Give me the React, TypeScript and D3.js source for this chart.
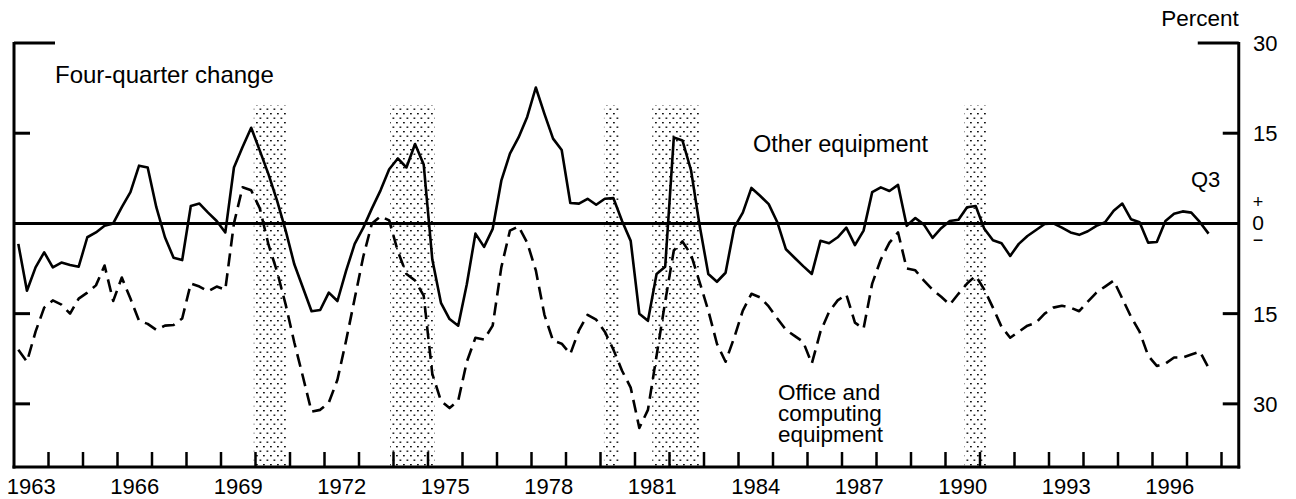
import React from "react";
import * as d3 from "d3";

// Quarterly data, 1963Q1 .. 1997Q3 (four-quarter percent change)
const START_YEAR = 1963;
const otherEquipment: number[] = [
  -3.4, -11.2, -7.3, -4.8, -7.3, -6.5, -6.9, -7.2, -2.3, -1.5, -0.4, 0,
  2.7, 5.2, 9.6, 9.3, 2.7, -2.3, -5.7, -6.1, 2.9, 3.3, 1.8, 0.4,
  -1.5, 9.3, 12.7, 15.9, 12.1, 8.2, 3.8, -1.2, -6.8, -10.7, -14.6, -14.4,
  -11.5, -12.9, -7.9, -3.4, -0.7, 2.5, 5.5, 9.0, 10.8, 9.3, 13.2, 9.8,
  -6.0, -13.2, -15.9, -17.0, -10.1, -1.7, -3.9, -0.9, 7.1, 11.6, 14.3, 17.7,
  22.6, 18.2, 14.1, 12.2, 3.4, 3.3, 4.1, 3.1, 4.1, 4.2, 0.4, -2.9,
  -15.0, -16.2, -8.4, -7.2, 14.3, 13.8, 8.8, -0.4, -8.4, -9.7, -8.2, -0.7,
  1.8, 5.9, 4.6, 3.2, 0.2, -4.3, -5.7, -7.1, -8.4, -2.9, -3.3, -2.3,
  -0.7, -3.6, -1.2, 5.2, 6.0, 5.4, 6.4, -0.4, 0.9, -0.2, -2.4, -0.8,
  0.4, 0.6, 2.7, 2.9, -0.9, -2.8, -3.3, -5.4, -3.4, -2.1, -1.1, -0.1,
  0, -0.7, -1.5, -1.9, -1.3, -0.4, 0.2, 2.1, 3.3, 0.7, 0.2, -3.2,
  -3.1, 0.4, 1.6, 2.0, 1.8, 0.2, -1.7,
];
const officeComputing: number[] = [
  -21, -23, -18, -14, -12.8, -13.5, -15, -12.5, -11.5, -10.3, -7, -12.9,
  -9, -12.5, -16.2, -16.7, -17.7, -17, -16.9, -15.8, -10, -10.5, -11.3, -10.5,
  -11, 0, 6, 5.5, 2.5, -3.5, -8, -13.5, -19.8, -25.5, -31.3, -31,
  -29.8, -26, -19.5, -12.5, -5.5, 0, 1.2, 0.5, -4.6, -8.4, -9.5, -12,
  -25, -29.5, -30.7, -29.5, -23, -19, -19.3, -17, -7.3, -1.2, -0.5, -3.2,
  -7.8, -15.2, -19.5, -20, -21.7, -17.8, -15.2, -16, -18, -21, -24.5, -27.3,
  -34, -31, -22, -13, -4.5, -3, -5.2, -9.8, -14.5, -20, -23, -19,
  -14.5, -11.7, -12.3, -13.8, -15.8, -17.7, -18.7, -19.7, -23.3, -18, -14.7, -12.8,
  -11.8, -16.5, -17.5, -10, -6, -3.2, -1.5, -7.5, -7.8, -9.5, -11, -12.2,
  -13.5, -11.7, -10, -8.7, -11, -14, -17.2, -19, -18, -17, -16.5, -15,
  -14, -13.7, -14, -14.6, -13, -11.5, -10.5, -9.5, -12.5, -15.5, -18, -22,
  -23.7, -23.3, -22.3, -22.3, -21.8, -21.3, -24,
];
// Recession periods (decimal years)
const recessionStarts = [1969.95, 1973.9, 1980.1, 1981.5, 1990.55];
const recessionEnds = [1970.9, 1975.2, 1980.55, 1982.88, 1991.2];
const yearLabels = [1963, 1966, 1969, 1972, 1975, 1978, 1981, 1984, 1987, 1990, 1993, 1996];
const yTickValues = [30, 15, -15, -30];
const yTickLabels = ["30", "15", "15", "30"];

const quarterTime = (i: number) => START_YEAR + Math.floor(i / 4) + ((i % 4) + 0.5) / 4;

export default function App() {
  const W = 1296, H = 499;
  const x = d3.scaleLinear().domain([1963, 1998.5]).range([14, 1238.75]);
  const y = d3.scaleLinear().domain([-40.5, 30]).range([467, 43]);
  const xl = x(1963), xr = x(1998.5);
  const line = d3
    .line<number>()
    .x((_, i) => x(quarterTime(i)))
    .y((d) => y(d));
  const yearTicks = d3.range(1964, 1999);
  const font = "'Liberation Sans', Arial, Helvetica, sans-serif";

  return (
    <svg width={W} height={H} style={{ position: "absolute", left: 0, top: 0, background: "#fff" }} fontFamily={font}>
      <defs>
        <pattern id="dots" width={7} height={9} patternUnits="userSpaceOnUse">
          <rect x={0.5} y={0.5} width={1.8} height={1.4} fill="#111" />
          <rect x={4} y={5} width={1.8} height={1.4} fill="#111" />
        </pattern>
      </defs>
      <rect width={W} height={H} fill="#fff" />
      {recessionStarts.map((s, k) => (
        <rect key={k} x={x(s)} y={105} width={x(recessionEnds[k]) - x(s)} height={y(-40.5) - 105} fill="url(#dots)" />
      ))}
      {/* zero line */}
      <line x1={xl} x2={xr} y1={y(0)} y2={y(0)} stroke="#000" strokeWidth={3} />
      {/* series */}
      <path d={line(officeComputing) || ""} fill="none" stroke="#000" strokeWidth={2.6} strokeDasharray="13 7" strokeLinejoin="round" />
      <path d={line(otherEquipment) || ""} fill="none" stroke="#000" strokeWidth={2.6} strokeLinejoin="round" />
      {/* frame: left, right, bottom */}
      <line x1={xl} x2={xl} y1={y(30) - 1} y2={y(-40.5) + 1.5} stroke="#000" strokeWidth={3} />
      <line x1={xr} x2={xr} y1={y(30) - 1} y2={y(-40.5) + 1.5} stroke="#000" strokeWidth={3} />
      <line x1={xl - 1.5} x2={xr + 1.5} y1={y(-40.5)} y2={y(-40.5)} stroke="#000" strokeWidth={3} />
      {/* y ticks */}
      {yTickValues.map((v, k) => {
        const len = v === 30 ? 41 : 16;
        return (
          <g key={k}>
            <line x1={xl} x2={xl + len} y1={y(v)} y2={y(v)} stroke="#000" strokeWidth={3} />
            <line x1={xr - len} x2={xr} y1={y(v)} y2={y(v)} stroke="#000" strokeWidth={3} />
            <text x={1253} y={y(v) + 8} fontSize={22} fill="#000">{yTickLabels[k]}</text>
          </g>
        );
      })}
      <text x={1258} y={y(0) - 15} fontSize={18} textAnchor="middle" fill="#000">+</text>
      <text x={1258} y={y(0) + 7} fontSize={21} textAnchor="middle" fill="#000">0</text>
      <text x={1258} y={y(0) + 23} fontSize={18} textAnchor="middle" fill="#000">−</text>
      {/* x ticks */}
      {yearTicks.map((yr) => (
        <line key={yr} x1={x(yr)} x2={x(yr)} y1={y(-40.5)} y2={y(-40.5) - 15} stroke="#000" strokeWidth={2.5} />
      ))}
      {yearLabels.map((yr) => (
        <text key={yr} x={x(yr + 0.5)} y={494} fontSize={22} textAnchor="middle" fill="#000">{yr}</text>
      ))}
      {/* labels */}
      <text x={xr} y={26} fontSize={22.5} textAnchor="end" fill="#000">Percent</text>
      <text x={55} y={83} fontSize={24} fill="#000">Four-quarter change</text>
      <text x={753} y={152} fontSize={23.5} fill="#000">Other equipment</text>
      <text x={1191} y={187} fontSize={22} fill="#000">Q3</text>
      <text x={778} y={400} fontSize={22.5} fill="#000">
        <tspan x={778}>Office and</tspan>
        <tspan x={778} dy={21}>computing</tspan>
        <tspan x={778} dy={21}>equipment</tspan>
      </text>
    </svg>
  );
}
